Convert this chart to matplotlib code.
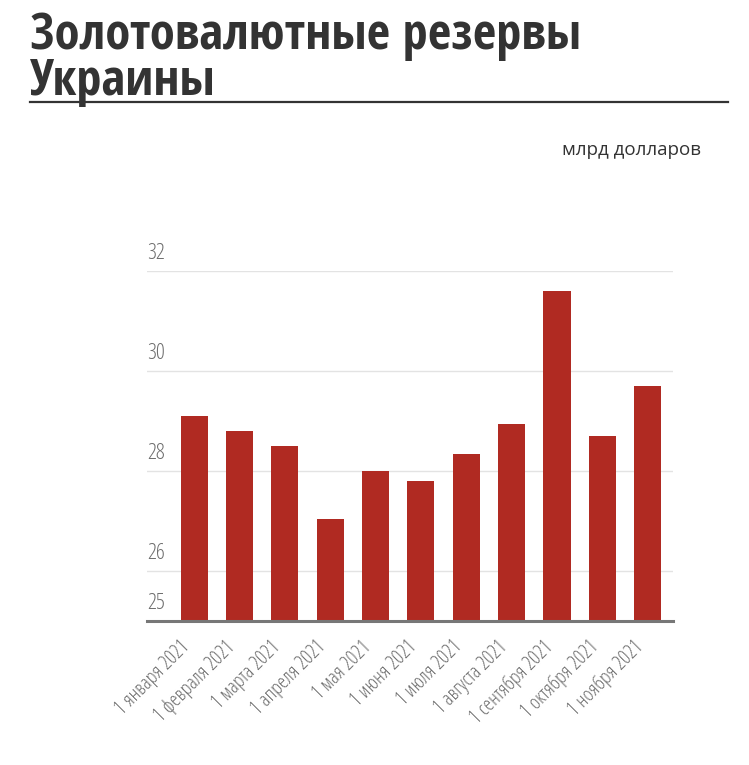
import matplotlib
matplotlib.use("Agg")
import matplotlib.pyplot as plt
from matplotlib import font_manager
from matplotlib.font_manager import FontProperties
from matplotlib.transforms import blended_transform_factory, offset_copy

# --- DATA ---
dates = ["1 января 2021", "1 февраля 2021", "1 марта 2021", "1 апреля 2021",
         "1 мая 2021", "1 июня 2021", "1 июля 2021", "1 августа 2021",
         "1 сентября 2021", "1 октября 2021", "1 ноября 2021"]
reserves = [29.1, 28.8, 28.5, 27.05, 28.0, 27.8, 28.35, 28.95, 31.6, 28.7, 29.7]
yticks = [25, 26, 28, 30, 32]
grid_lines = [26, 28, 30, 32]

title_lines = ["Золотовалютные резервы", "Украины"]
unit = "млрд долларов"


# --- FONTS: look for a condensed face of the right weight, fall back to DejaVu ---
def _w(v):
    if isinstance(v, str):
        return font_manager.weight_dict.get(v, 400)
    return v


def pick(cands, weight, size):
    ttf = font_manager.fontManager.ttflist
    for name, stretch in cands:
        hits = [f for f in ttf if f.name == name and f.style == "normal"
                and (stretch is None or f.stretch == stretch)
                and abs(_w(f.weight) - weight) <= 100]
        if hits:
            best = min(hits, key=lambda f: abs(_w(f.weight) - weight))
            return FontProperties(fname=best.fname, size=size)
    return FontProperties(family="DejaVu Sans", size=size)


cond = [("Open Sans Condensed", None), ("Open Sans", "condensed"),
        ("Fira Sans Condensed", None), ("DejaVu Sans", "condensed")]
f_title = pick(cond, 700, 36.5)
f_tick = pick(cond, 300, 16)
f_date = pick(cond, 300, 14.5)
f_unit = pick([("Open Sans", "normal")], 400, 13.5)

W, H = 749, 765
fig = plt.figure(figsize=(W / 100, H / 100), dpi=100)

# title
fig.text(30 / W, 1 - 49 / H, title_lines[0], fontproperties=f_title,
         color="#333333", va="baseline", ha="left")
fig.text(30 / W, 1 - 95 / H, title_lines[1], fontproperties=f_title,
         color="#333333", va="baseline", ha="left")
fig.add_artist(plt.Line2D([30 / W, 728 / W], [1 - 102 / H, 1 - 102 / H],
                          color="#333333", lw=1.6))

fig.text(701 / W, 1 - 150 / H, unit, fontproperties=f_unit,
         color="#333333", ha="right", va="center")

# plot area
ax = fig.add_axes([147 / W, 144 / H, 526 / W, 350 / H])
x = list(range(len(dates)))
ax.bar(x, reserves, width=0.6, color="#b02a22", zorder=2)
ax.set_xlim(-1.04, len(dates) - 1 + 0.56)
ax.set_ylim(25, 32)

for g in grid_lines:
    ax.axhline(g, color="#e3e3e3", lw=1, zorder=1)
ax.axhline(25, color="#777777", lw=2.2, zorder=3, clip_on=False)

for s in ax.spines.values():
    s.set_visible(False)
ax.set_yticks([])
ax.set_xticks(x)
ax.set_xticklabels([])
ax.tick_params(axis="x", length=0)

# y labels sit above the gridlines, left aligned
tr = offset_copy(blended_transform_factory(ax.transAxes, ax.transData),
                 fig=fig, x=0, y=7, units="dots")
for v in yticks:
    ax.text(0, v, str(v), transform=tr, fontproperties=f_tick,
            color="#6e6e6e", ha="left", va="bottom")

# rotated date labels
trx = offset_copy(ax.transData, fig=fig, x=-7, y=-23, units="dots")
for xi, lab in zip(x, dates):
    ax.text(xi, 25, lab, transform=trx, fontproperties=f_date,
            color="#6e6e6e", rotation=45, rotation_mode="anchor",
            ha="right", va="center")

fig.savefig("out.png", dpi=100)
